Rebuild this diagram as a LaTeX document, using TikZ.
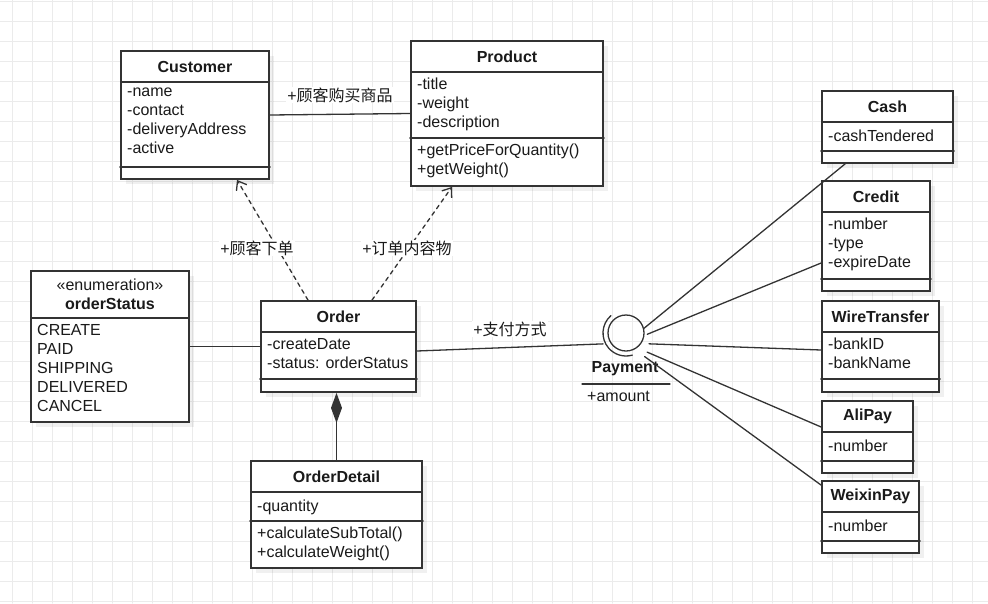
\documentclass[tikz,border=0pt]{standalone}
\usepackage{fontspec}
\setmainfont{Liberation Sans}
\newfontfamily\cjk{Noto Sans CJK SC}
\usetikzlibrary{arrows.meta,shadows}

\definecolor{umlline}{HTML}{333333}
\definecolor{umltext}{HTML}{1A1A1A}
\definecolor{gridc}{HTML}{EBEBEB}

\tikzset{
  classbox/.style={draw=umlline,line width=1.8pt,fill=white,inner sep=0pt,
    drop shadow={shadow xshift=5pt,shadow yshift=-5pt,opacity=0.06,fill=black}},
  boxline/.style={draw=umlline,line width=1.8pt},
  classtitle/.style={font=\fontsize{16}{19}\selectfont\bfseries,text=umltext,align=center,inner sep=0pt},
  members/.style={anchor=north west,align=left,inner sep=0pt,text=umltext,
    font=\fontsize{16}{19}\selectfont,execute at begin node=\strut},
  assoc/.style={draw=umlline,line width=1.3pt},
  depend/.style={assoc,dash pattern=on 4pt off 4pt,-{Straight Barb[length=8pt,width=12pt]}},
  edgelabel/.style={fill=white,inner sep=1pt,text=umltext,font=\fontsize{16}{19}\selectfont},
  gridline/.style={draw=gridc,line width=1pt}
}

\begin{document}
\begin{tikzpicture}[x=1pt,y=-1pt,line cap=round]
  \useasboundingbox (0,0) rectangle (988,603);
  % background grid
  \foreach \gx in {12,32,...,980} \draw[gridline] (\gx,0) -- (\gx,603);
  \foreach \gy in {1,21,...,601} \draw[gridline] (0,\gy) -- (988,\gy);

  % one class box: name, left, top, right, bottom, header line, title
  \newcommand{\umlclass}[7]{%
    \node[classbox,minimum width={(#4-#2)*1pt},minimum height={(#5-#3)*1pt}]
      (#1) at ({(#2+#4)/2},{(#3+#5)/2}) {};
    \draw[boxline] (#2,#6) -- (#4,#6);
    \node[classtitle] (#1-title) at ({(#2+#4)/2},{(#3+#6)/2}) {#7};
  }
  % separator between attributes and operations
  \newcommand{\umlsep}[2]{\draw[boxline] (#1.west |- 0,#2) -- (#1.east |- 0,#2);}

  % Classes
  \umlclass{customer}{121}{51}{269}{179}{82}{Customer}
  \umlsep{customer}{167}
  \node[members] (customer-attr) at (127,88) {-name\\-contact\\-deliveryAddress\\-active};

  \umlclass{product}{411}{41}{603}{186}{72}{Product}
  \umlsep{product}{138}
  \node[members] (product-attr) at (417,78) {-title\\-weight\\-description};
  \node[members] (product-ops) at (417,144) {+getPriceForQuantity()\\+getWeight()};

  \umlclass{status}{31}{271}{189}{422}{318}{{\mdseries «enumeration»}\\orderStatus}
  \node[members] (status-items) at (37,324) {CREATE\\PAID\\SHIPPING\\DELIVERED\\CANCEL};

  \umlclass{order}{261}{301}{416}{392}{332}{Order}
  \umlsep{order}{379}
  \node[members] (order-attr) at (267,338) {-createDate\\-status: orderStatus};

  \umlclass{detail}{251}{461}{422}{568}{492}{OrderDetail}
  \umlsep{detail}{521}
  \node[members] (detail-attr) at (257,498) {-quantity};
  \node[members] (detail-ops) at (257,527) {+calculateSubTotal()\\+calculateWeight()};

  \umlclass{cash}{822}{91}{953}{163}{122}{Cash}
  \umlsep{cash}{151}
  \node[members] (cash-attr) at (828,128) {-cashTendered};

  \umlclass{credit}{822}{181}{930}{291}{212}{Credit}
  \umlsep{credit}{279}
  \node[members] (credit-attr) at (828,218) {-number\\-type\\-expireDate};

  \umlclass{wire}{822}{301}{939}{392}{332}{WireTransfer}
  \umlsep{wire}{379}
  \node[members] (wire-attr) at (828,338) {-bankID\\-bankName};

  \umlclass{alipay}{822}{401}{913}{473}{432}{AliPay}
  \umlsep{alipay}{461}
  \node[members] (alipay-attr) at (828,438) {-number};

  \umlclass{weixin}{822}{481}{919}{553}{512}{WeixinPay}
  \umlsep{weixin}{541}
  \node[members] (weixin-attr) at (828,518) {-number};

  % Payment interface
  \coordinate (paycore) at (626,343);
  \node[draw=umlline,line width=1.3pt,circle,minimum size=36pt,inner sep=0pt] (pay) at (626,333) {};
  \draw[assoc] ([shift={(131:23pt)}]pay.center) arc[start angle=131,end angle=286,radius=23pt];
  \node[classtitle] (pay-title) at (625,369) {Payment};
  \draw[assoc] (582,384) -- (670,384);
  \node[members,anchor=west,execute at begin node={}] (pay-attr) at (587,398) {+amount};

  % Associations
  \draw[assoc] (customer.east) -- (product.west);
  \node[edgelabel] (buy-label) at (340,95) {+\cjk 顾客购买商品};
  \draw[assoc] (status.east) -- (order.west);
  \draw[assoc,shorten >=23pt] ([yshift=-4.5pt]order.east) -- (paycore);
  \node[edgelabel] (paymethod-label) at (510,329) {+\cjk 支付方式};
  \draw[assoc,-{Diamond[length=30pt,width=11pt]}] (detail.north) -- (detail.north |- order.south);

  % Dependencies
  \draw[depend] ([xshift=-30.5pt]order.north) -- ([xshift=42pt]customer.south);
  \draw[depend] ([xshift=33.5pt]order.north) -- ([xshift=-55pt]product.south);
  \node[edgelabel] (place-label) at (257,248) {+\cjk 顾客下单};
  \node[edgelabel] (content-label) at (407,248) {+\cjk 订单内容物};

  % Payment realisations
  \draw[assoc,shorten <=23pt] (paycore) -- ([xshift=24pt]cash.south west);
  \draw[assoc,shorten <=23pt] (paycore) -- ([yshift=-27pt]credit.west);
  \draw[assoc,shorten <=23pt] (paycore) -- ([yshift=-3.5pt]wire.west);
  \draw[assoc,shorten <=23pt] (paycore) -- ([yshift=10pt]alipay.west);
  \draw[assoc,shorten <=23pt] (paycore) -- ([yshift=-5pt]weixin.north west);
\end{tikzpicture}
\end{document}
